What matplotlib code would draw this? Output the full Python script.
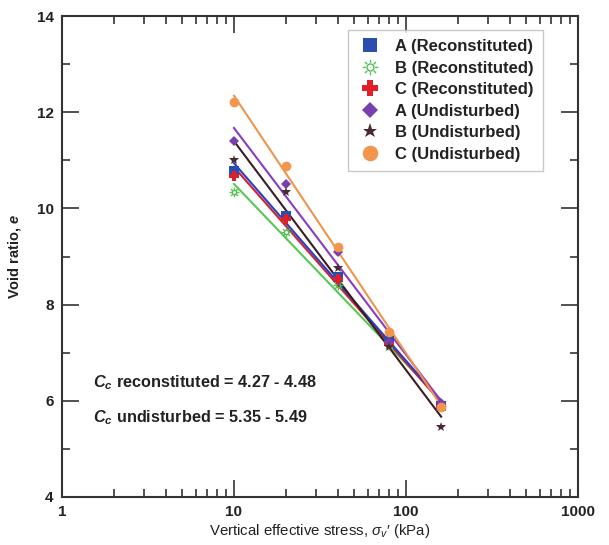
import numpy as np
import matplotlib
matplotlib.use("Agg")
import matplotlib.pyplot as plt
from matplotlib.path import Path

plt.rcParams['font.family'] = ['Liberation Sans', 'DejaVu Sans']
plt.rcParams['mathtext.fontset'] = 'custom'
plt.rcParams['mathtext.rm'] = 'Liberation Sans'
plt.rcParams['mathtext.it'] = 'Liberation Sans:italic'
plt.rcParams['mathtext.bf'] = 'Liberation Sans:bold'
plt.rcParams['mathtext.bfit'] = 'Liberation Sans:italic:bold'

stress = [10, 20, 40, 80, 160]
labels = ['A (Reconstituted)', 'B (Reconstituted)', 'C (Reconstituted)',
          'A (Undisturbed)', 'B (Undisturbed)', 'C (Undisturbed)']
e_A_rec = [10.78, 9.84, 8.58, 7.24, 5.90]
e_B_rec = [10.34, 9.51, 8.40, 7.15, 5.90]
e_C_rec = [10.68, 9.79, 8.54, 7.18, 5.87]
e_A_und = [11.40, 10.51, 9.09, 7.22, 5.95]
e_B_und = [11.00, 10.34, 8.76, 7.12, 5.45]
e_C_und = [12.21, 10.88, 9.20, 7.43, 5.88]
annotations = [r'$\mathbfit{C_c}$ reconstituted = 4.27 - 4.48',
               r'$\mathbfit{C_c}$ undisturbed = 5.35 - 5.49']

# sunburst marker: small circle with rays
t = np.linspace(0, 2 * np.pi, 25)
verts = [(0.45 * np.cos(a), 0.45 * np.sin(a)) for a in t]
codes = [Path.MOVETO] + [Path.LINETO] * (len(t) - 1)
for k in range(8):
    a = k * np.pi / 4
    verts += [(0.6 * np.cos(a), 0.6 * np.sin(a)), (1.0 * np.cos(a), 1.0 * np.sin(a))]
    codes += [Path.MOVETO, Path.LINETO]
sun = Path(verts, codes)

series = [e_A_rec, e_B_rec, e_C_rec, e_A_und, e_B_und, e_C_und]
mcolors = ['#2a4db0', '#4fbf4f', '#e02028', '#7a3fae', '#4a2a2e', '#f2964e']
lcolors = ['#2440c8', '#55c855', '#d4202c', '#8a3cc0', '#3a1e22', '#f0944a']
markers = ['s', sun, 'P', 'D', '*', 'o']
msizes = [6.5, 7, 7, 5.2, 7, 7]

fig = plt.figure(figsize=(6.09, 5.45), dpi=100)
ax = fig.add_axes([0.1018, 0.0881, 0.8473, 0.8825])
ax.set_xscale('log')

x = np.array(stress, dtype=float)
lx = np.log10(x)
order_lines = [1, 2, 0, 4, 3, 5]
for i in order_lines:
    p = np.polyfit(lx, series[i], 1)
    xl = np.array([x[0], x[-1]])
    ax.plot(xl, np.polyval(p, np.log10(xl)), color=lcolors[i], lw=1.5, zorder=2)

handles = []
for i in range(6):
    if markers[i] is sun:
        h, = ax.plot(x, series[i], linestyle='none', marker=sun, markersize=msizes[i],
                     markerfacecolor='none', markeredgecolor=mcolors[i], markeredgewidth=1.0,
                     label=labels[i], zorder=3)
    else:
        h, = ax.plot(x, series[i], linestyle='none', marker=markers[i], markersize=msizes[i],
                     color=mcolors[i], markeredgewidth=0, label=labels[i], zorder=3)
    handles.append(h)

ax.set_xlim(1, 1000)
ax.set_ylim(4, 14)
ax.set_yticks([4, 6, 8, 10, 12, 14])
ax.set_yticks([5, 7, 9, 11, 13], minor=True)
ax.set_xticks([1, 10, 100, 1000])
ax.set_xticklabels(['1', '10', '100', '1000'])
ax.tick_params(which='both', direction='in', top=True, right=True, color='#333333', width=1.2)
ax.tick_params(which='major', length=12, labelsize=11, pad=6)
ax.tick_params(which='minor', length=6)
for lab in ax.get_xticklabels() + ax.get_yticklabels():
    lab.set_fontweight('bold')
    lab.set_color('#222222')
for s in ax.spines.values():
    s.set_linewidth(1.5)
    s.set_color('#333333')

ax.set_xlabel(r"Vertical effective stress, $\sigma_{\mathit{v}}$′ (kPa)", fontsize=10.8,
              color='#222222', labelpad=2)
ax.set_ylabel(r"Void ratio, $\mathbfit{e}$", fontsize=10.5, fontweight='bold',
              color='#222222', labelpad=10)

leg = ax.legend(handles=handles, loc='upper right', bbox_to_anchor=(0.932, 0.971),
                frameon=True, fancybox=False, edgecolor='#bbbbbb',
                prop={'weight': 'bold', 'size': 12}, handletextpad=0.7,
                labelspacing=0.39, borderpad=0.55, handlelength=1.6, markerscale=1.6,
                borderaxespad=0)
leg.get_frame().set_linewidth(1.0)
for txt in leg.get_texts():
    txt.set_color('#222222')

ax.text(0.06, 0.237, annotations[0], transform=ax.transAxes, fontsize=11.7,
        fontweight='bold', va='center', ha='left', color='#222222')
ax.text(0.06, 0.164, annotations[1], transform=ax.transAxes, fontsize=11.7,
        fontweight='bold', va='center', ha='left', color='#222222')

fig.savefig('out.png', dpi=100)
